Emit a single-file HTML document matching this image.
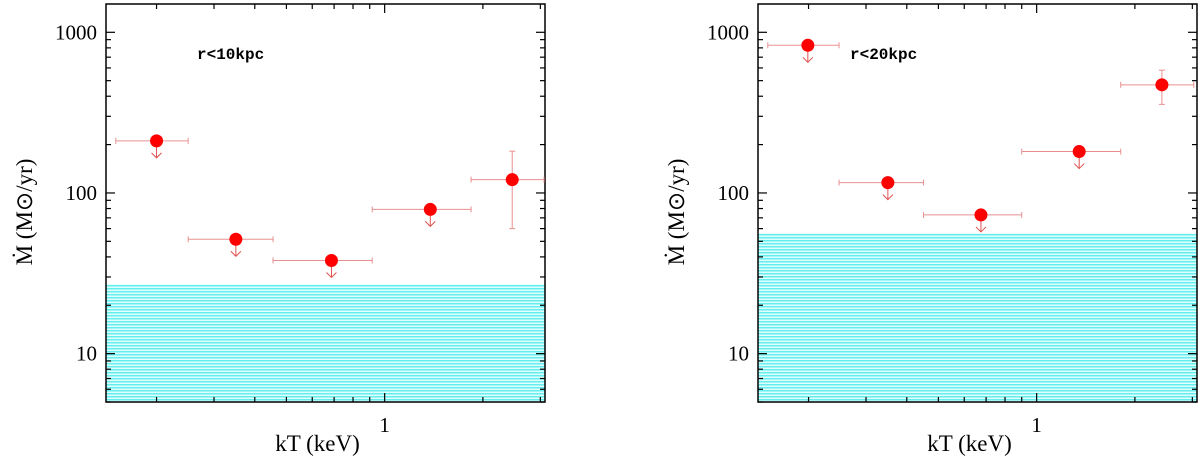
<!DOCTYPE html>
<html><head><meta charset="utf-8"><style>
body{margin:0;background:#fff;}
svg{display:block;}
text{font-family:"Liberation Serif",serif;fill:#000;}
text.mono{font-family:"Liberation Mono",monospace;font-weight:bold;}
</style></head><body>
<svg id="chart" width="1200" height="467" xmlns="http://www.w3.org/2000/svg">
<defs>
<pattern id="hatch" width="4" height="3" patternUnits="userSpaceOnUse">
<rect width="4" height="3" fill="#dfffff"/>
<rect width="4" height="1.5" fill="#66eeee"/>
</pattern>
</defs>
</svg>
<script>
// Panel 1 (r<10kpc)
const kT1 = [0.2, 0.35, 0.687, 1.38, 2.46];
const kTlo1 = [0.15, 0.25, 0.455, 0.916, 1.84];
const kThi1 = [0.25, 0.455, 0.916, 1.84, 3.08];
const mdot1 = [211, 51.5, 38, 79, 121];
const mdotLo1 = [null, null, null, null, 60];
const mdotHi1 = [null, null, null, null, 182];
const upper1 = [true, true, true, true, false];
const band1 = 27;
// Panel 2 (r<20kpc)
const kT2 = [0.199, 0.35, 0.675, 1.35, 2.42];
const kTlo2 = [0.15, 0.248, 0.45, 0.90, 1.81];
const kThi2 = [0.248, 0.45, 0.90, 1.81, 3.03];
const mdot2 = [830, 116, 73, 181, 471];
const mdotLo2 = [null, null, null, null, 356];
const mdotHi2 = [null, null, null, null, 581];
const upper2 = [true, true, true, true, false];
const band2 = 56;
// Axes
const xDomain = [0.14, 3.1];
const yDomain = [5, 1500];
const yTickVals = [10, 100, 1000];
const yTickLabels = ["10", "100", "1000"];
const xTickVals = [1];
const xTickLabels = ["1"];

const NS = "http://www.w3.org/2000/svg";
const svg = document.getElementById('chart');
function mk(tag, attrs, parent){
  const e = document.createElementNS(NS, tag);
  for (const k in attrs) e.setAttribute(k, attrs[k]);
  (parent||svg).appendChild(e);
  return e;
}
function panel(left, label, kT, lo, hi, m, mlo, mhi, up, band, idx){
  const L = left, R = left + 439, T = 4, B = 402;
  const lx0 = Math.log10(xDomain[0]), lx1 = Math.log10(xDomain[1]);
  const ly0 = Math.log10(yDomain[0]), ly1 = Math.log10(yDomain[1]);
  const X = v => L + (Math.log10(v) - lx0) / (lx1 - lx0) * (R - L);
  const Y = v => B - (Math.log10(v) - ly0) / (ly1 - ly0) * (B - T);
  const g = mk('g', {});
  
  
  const bandEl = mk('rect', {x: L, y: Y(band), width: R - L, height: B - Y(band), fill: 'url(#hatch)'}, g);
  
  
  const fr = mk('rect', {x: L, y: T, width: R - L, height: B - T, fill: 'none', stroke: '#000', 'stroke-width': 1.5}, g);
  
  
  for (let d = 0; d <= 3; d++) {
    for (let k = 1; k <= 9; k++) {
      const v = k * Math.pow(10, d);
      if (v < yDomain[0] || v > yDomain[1]) continue;
      const len = k === 1 ? 9 : 5;
      const y = Y(v);
      mk('line', {x1: L, x2: L + len, y1: y, y2: y, stroke: '#000', 'stroke-width': 1.2}, g);
      mk('line', {x1: R, x2: R - len, y1: y, y2: y, stroke: '#000', 'stroke-width': 1.2}, g);
    }
  }
  yTickVals.forEach((v, i) => {
    const t = mk('text', {x: L - 9, y: Y(v) + 7, 'text-anchor': 'end', 'font-size': 21}, g);
    t.textContent = yTickLabels[i];
    
    
  });
  for (let d = -1; d <= 0; d++) {
    for (let k = 1; k <= 9; k++) {
      const v = k * Math.pow(10, d);
      if (v < xDomain[0] || v > xDomain[1]) continue;
      const len = k === 1 ? 9 : 5;
      const x = X(v);
      mk('line', {x1: x, x2: x, y1: B, y2: B - len, stroke: '#000', 'stroke-width': 1.2}, g);
      mk('line', {x1: x, x2: x, y1: T, y2: T + len, stroke: '#000', 'stroke-width': 1.2}, g);
    }
  }
  xTickVals.forEach((v, i) => {
    const t = mk('text', {x: X(v), y: B + 30, 'text-anchor': 'middle', 'font-size': 21}, g);
    t.textContent = xTickLabels[i];
    
    
  });
  const xt = mk('text', {x: (L + R) / 2 - 8, y: 451, 'text-anchor': 'middle', 'font-size': 23}, g);
  xt.textContent = 'kT (keV)';
  
  
  const yt = mk('text', {x: 0, y: 0, 'text-anchor': 'middle', 'font-size': 23, transform: `translate(${L - 74},212) rotate(-90)`}, g);
  yt.textContent = 'Ṁ (M⊙/yr)';
  
  
  const lb = mk('text', {x: label.x, y: 59, 'font-size': 16, class: 'mono'}, g);
  lb.textContent = label.t;
  
  
  kT.forEach((v, i) => {
    const pg = mk('g', {}, g);
    
    
    const cx = X(v), cy = Y(m[i]);
    const ec = '#e89090';
    mk('line', {x1: X(lo[i]), x2: X(hi[i]), y1: cy, y2: cy, stroke: ec, 'stroke-width': 1}, pg);
    mk('line', {x1: X(lo[i]), x2: X(lo[i]), y1: cy - 3, y2: cy + 3, stroke: ec, 'stroke-width': 1}, pg);
    mk('line', {x1: X(hi[i]), x2: X(hi[i]), y1: cy - 3, y2: cy + 3, stroke: ec, 'stroke-width': 1}, pg);
    if (mlo[i] !== null) {
      mk('line', {x1: cx, x2: cx, y1: Y(mlo[i]), y2: Y(mhi[i]), stroke: ec, 'stroke-width': 1}, pg);
      mk('line', {x1: cx - 3, x2: cx + 3, y1: Y(mlo[i]), y2: Y(mlo[i]), stroke: ec, 'stroke-width': 1}, pg);
      mk('line', {x1: cx - 3, x2: cx + 3, y1: Y(mhi[i]), y2: Y(mhi[i]), stroke: ec, 'stroke-width': 1}, pg);
    }
    if (up[i]) {
      mk('line', {x1: cx, x2: cx, y1: cy, y2: cy + 17, stroke: '#e05050', 'stroke-width': 1}, pg);
      mk('polyline', {points: `${cx-5},${cy+12} ${cx},${cy+17} ${cx+5},${cy+12}`, fill: 'none', stroke: '#e05050', 'stroke-width': 1}, pg);
    }
    mk('circle', {cx: cx, cy: cy, r: 6.5, fill: '#f00'}, pg);
  });
}
panel(106, {x: 197, t: 'r<10kpc'}, kT1, kTlo1, kThi1, mdot1, mdotLo1, mdotHi1, upper1, band1, 1);
panel(758, {x: 850, t: 'r<20kpc'}, kT2, kTlo2, kThi2, mdot2, mdotLo2, mdotHi2, upper2, band2, 2);
</script>
</body></html>
